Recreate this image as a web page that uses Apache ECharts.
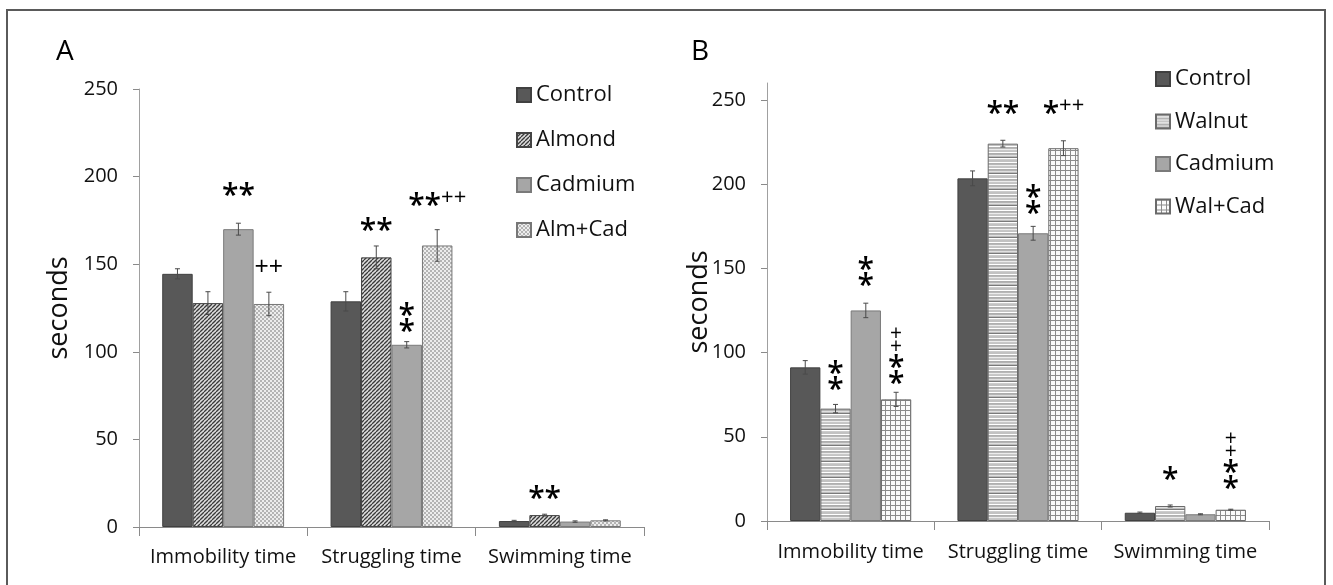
<!DOCTYPE html>
<html>
<head>
<meta charset="utf-8">
<script src="https://cdn.jsdelivr.net/npm/echarts@6/dist/echarts.min.js"></script>
<style>
html,body{margin:0;padding:0;background:#fff;}
#chart{width:1333px;height:585px;}
</style>
</head>
<body>
<div id="chart"></div>
<script>
// ---------------- data ----------------
const categories = ['Immobility time', 'Struggling time', 'Swimming time'];
const groupsA = ['Control', 'Almond', 'Cadmium', 'Alm+Cad'];
const groupsB = ['Control', 'Walnut', 'Cadmium', 'Wal+Cad'];
const yTicks = [0, 50, 100, 150, 200, 250];

// Panel A values (seconds)
const controlA = [144.5, 128.8, 3.4];
const almondA  = [127.8, 153.9, 6.8];
const cadmiumA = [170.0, 104.0, 3.1];
const almCadA  = [127.3, 160.7, 3.8];
// Panel A error bars
const controlAErr = [2.9, 5.5, 0.4];
const almondAErr  = [6.5, 6.5, 0.5];
const cadmiumAErr = [3.4, 1.8, 0.4];
const almCadAErr  = [6.7, 9.0, 0.3];

// Panel B values (seconds)
const controlB = [91.2, 203.4, 4.9];
const walnutB  = [66.7, 224.0, 8.9];
const cadmiumB = [125.0, 170.8, 4.0];
const walCadB  = [72.2, 221.3, 6.7];
// Panel B error bars
const controlBErr = [4.0, 4.4, 0.4];
const walnutBErr  = [2.5, 2.0, 0.6];
const cadmiumBErr = [4.3, 4.1, 0.3];
const walCadBErr  = [4.2, 4.4, 0.3];

// significance marks: [group, category, value where the mark sits, text]
const marksA = [
  ['Cadmium', 'Immobility time', 192.5, '**'],
  ['Alm+Cad', 'Immobility time', 148, '++'],
  ['Almond',  'Struggling time', 172.5, '**'],
  ['Alm+Cad', 'Struggling time', 187, '**++'],
  ['Cadmium', 'Struggling time', 119.5, '*\n*'],
  ['Almond',  'Swimming time', 19.6, '**']
];
const marksB = [
  ['Walnut',  'Immobility time', 86.2, '*\n*'],
  ['Cadmium', 'Immobility time', 148.4, '*\n*'],
  ['Wal+Cad', 'Immobility time', 97.5, '+\n+\n*\n*'],
  ['Walnut',  'Struggling time', 245.4, '**'],
  ['Wal+Cad', 'Struggling time', 245.3, '*++'],
  ['Cadmium', 'Struggling time', 190.9, '*\n*'],
  ['Walnut',  'Swimming time', 28.4, '*'],
  ['Wal+Cad', 'Swimming time', 35.2, '+\n+\n*\n*']
];

// ---------------- styles ----------------
const FONT = 'Open Sans';
const BAR_GAP = 0.276;

function pattern(w, h, draw) {
  const c = document.createElement('canvas');
  c.width = w; c.height = h;
  const ctx = c.getContext('2d');
  draw(ctx, w, h);
  return { image: c, repeat: 'repeat' };
}
const solidDark = '#585858';
const solidLight = '#a6a6a6';
const hatchDiag = pattern(4, 4, (ctx) => {
  ctx.fillStyle = '#dedede'; ctx.fillRect(0, 0, 4, 4);
  ctx.strokeStyle = '#3a3a3a'; ctx.lineWidth = 1.3;
  [0, 4, 8].forEach(c => { ctx.beginPath(); ctx.moveTo(c, 0); ctx.lineTo(c - 4, 4); ctx.stroke(); });
});
const checker = pattern(4, 4, (ctx) => {
  ctx.fillStyle = '#ededed'; ctx.fillRect(0, 0, 4, 4);
  ctx.fillStyle = '#b4b4b4'; ctx.fillRect(0, 0, 2, 2); ctx.fillRect(2, 2, 2, 2);
});
const hStripes = pattern(1, 16, (ctx) => {
  const rows = ['#c2c2c2','#c2c2c2','#ffffff','#b0b0b0','#b8b8b8','#ececec','#c8c8c8','#c4c4c4',
                '#ffffff','#adadad','#b5b5b5','#e0e0e0','#bdbdbd','#7a7a7a','#ffffff','#cccccc'];
  rows.forEach((col, i) => { ctx.fillStyle = col; ctx.fillRect(0, i, 1, 1); });
});
const grid = pattern(5, 5, (ctx) => {
  ctx.fillStyle = '#fbfbfb'; ctx.fillRect(0, 0, 5, 5);
  ctx.fillStyle = '#8c8c8c'; ctx.fillRect(0, 0, 5, 1); ctx.fillRect(0, 0, 1, 5);
});

const stylesA = {
  'Control': { color: solidDark, borderColor: '#404040' },
  'Almond':  { color: hatchDiag, borderColor: '#444444' },
  'Cadmium': { color: solidLight, borderColor: '#7a7a7a' },
  'Alm+Cad': { color: checker, borderColor: '#777777' }
};
const stylesB = {
  'Control': { color: solidDark, borderColor: '#404040' },
  'Walnut':  { color: hStripes, borderColor: '#6a6a6a' },
  'Cadmium': { color: solidLight, borderColor: '#7a7a7a' },
  'Wal+Cad': { color: grid, borderColor: '#6a6a6a' }
};

function richMark(text) {
  const lines = text.split('\n');
  return lines.map(line => {
    const hasStar = line.indexOf('*') >= 0, hasPlus = line.indexOf('+') >= 0;
    let plusStyle = 'p';                       // stacked plus
    if (lines.length === 1 && hasStar && hasPlus) plusStyle = 'q';   // "**++"
    else if (lines.length === 1 && !hasStar) plusStyle = 'r';        // standalone "++"
    return line.split('').map(ch => ch === '+' ? '{' + plusStyle + '|+}' : '{s|*}').join('');
  }).join('\n');
}

function barSeries(name, values, panel, marks) {
  const st = (panel === 0 ? stylesA : stylesB)[name];
  const mine = marks.filter(m => m[0] === name);
  const s = {
    type: 'bar', name: name, data: values,
    xAxisIndex: panel, yAxisIndex: panel,
    barGap: '0%', barCategoryGap: (BAR_GAP * 100) + '%',
    itemStyle: { color: st.color, borderColor: st.borderColor, borderWidth: 1 },
    emphasis: { disabled: true },
    animation: false
  };
  if (mine.length) {
    s.markPoint = {
      symbol: 'circle', symbolSize: 1,
      itemStyle: { color: 'rgba(0,0,0,0)' },
      animation: false,
      label: {
        show: true, position: 'inside', color: '#000',
        formatter: p => richMark(p.name),
        rich: {
          s: { fontFamily: FONT, fontSize: 30, fontWeight: 600, lineHeight: 16, color: '#000', padding: [14, 0, 0, 0] },
          p: { fontFamily: FONT, fontSize: 21, lineHeight: 12.5, color: '#000' },
          q: { fontFamily: FONT, fontSize: 22, lineHeight: 16, color: '#000', padding: [0, 0, 4, 0] },
          r: { fontFamily: FONT, fontSize: 25, lineHeight: 16, color: '#000' }
        }
      },
      data: mine.map(m => ({ name: m[3], coord: [m[1], m[2]] }))
    };
  }
  return s;
}

function errSeries(panel, valueLists, errLists) {
  const data = [];
  valueLists.forEach((vals, k) => {
    vals.forEach((v, c) => data.push([c, k, v, errLists[k][c]]));
  });
  return {
    type: 'custom', xAxisIndex: panel, yAxisIndex: panel, z: 5,
    silent: true, animation: false,
    encode: { x: 0, y: 2 },
    data: data,
    renderItem: function (params, api) {
      const c = api.value(0), k = api.value(1), v = api.value(2), e = api.value(3);
      const band = api.size([1, 0])[0];
      const bw = band * (1 - BAR_GAP) / 4;
      const cx = api.coord([c, v])[0] + (k - 1.5) * bw;
      const yTop = api.coord([c, v + e])[1];
      const yBot = api.coord([c, v - e])[1];
      const cap = 2.5;
      const style = { stroke: '#4a4a4a', lineWidth: 1 };
      return {
        type: 'group',
        children: [
          { type: 'line', shape: { x1: cx, y1: yTop, x2: cx, y2: yBot }, style: style },
          { type: 'line', shape: { x1: cx - cap, y1: yTop, x2: cx + cap, y2: yTop }, style: style },
          { type: 'line', shape: { x1: cx - cap, y1: yBot, x2: cx + cap, y2: yBot }, style: style }
        ]
      };
    }
  };
}

function xAxis(gridIndex, margin) {
  return {
    type: 'category', gridIndex: gridIndex, data: categories,
    axisLine: { lineStyle: { color: '#8a8a8a', width: 1 } },
    axisTick: { show: true, length: 9, lineStyle: { color: '#8a8a8a' } },
    axisLabel: { fontFamily: FONT, fontSize: 20, color: '#111', margin: margin, interval: 0 },
    splitLine: { show: false }
  };
}
function yAxis(gridIndex, max, nameGap) {
  return {
    type: 'value', gridIndex: gridIndex, min: 0, max: max, interval: 50,
    name: 'seconds', nameLocation: 'middle', nameGap: nameGap, nameRotate: 90,
    nameMoveOverlap: false,
    nameTextStyle: { fontFamily: FONT, fontSize: 27, color: '#111' },
    axisLine: { show: true, lineStyle: { color: '#a0a0a0', width: 1 } },
    axisTick: { show: true, length: 6, lineStyle: { color: '#8a8a8a' }, customValues: yTicks },
    axisLabel: { fontFamily: FONT, fontSize: 20, color: '#111', margin: 21, customValues: yTicks },
    splitLine: { show: false }
  };
}

const chart = echarts.init(document.getElementById('chart'), null, { renderer: 'canvas' });
const option = {
  backgroundColor: '#ffffff',
  animation: false,
  title: [
    { text: 'A', left: 51, top: 33, textStyle: { fontFamily: FONT, fontSize: 28, fontWeight: 'normal', color: '#000' } },
    { text: 'B', left: 686, top: 33, textStyle: { fontFamily: FONT, fontSize: 28, fontWeight: 'normal', color: '#000' } }
  ],
  graphic: [
    { type: 'rect', silent: true, shape: { x: 7, y: 10, width: 1318, height: 620 },
      style: { fill: 'none', stroke: '#5a5a5a', lineWidth: 2 } }
  ],
  legend: [
    { data: groupsA, orient: 'vertical', left: 511, top: 79, icon: 'rect',
      itemWidth: 14, itemHeight: 14, itemGap: 23,
      textStyle: { fontFamily: FONT, fontSize: 22, color: '#111' },
      selectedMode: false },
    { data: groupsB, orient: 'vertical', left: 1150, top: 63, icon: 'rect',
      itemWidth: 14, itemHeight: 14, itemGap: 20.5,
      textStyle: { fontFamily: FONT, fontSize: 22, color: '#111' },
      selectedMode: false }
  ],
  grid: [
    { left: 139, right: 689, top: 89, bottom: 58 },
    { left: 767, right: 64, top: 83, bottom: 64 }
  ],
  xAxis: [xAxis(0, 20), xAxis(1, 21)],
  yAxis: [yAxis(0, 250, 66), yAxis(1, 260, 54)],
  series: [
    barSeries('Control', controlA, 0, marksA),
    barSeries('Almond', almondA, 0, marksA),
    barSeries('Cadmium', cadmiumA, 0, marksA),
    barSeries('Alm+Cad', almCadA, 0, marksA),
    errSeries(0, [controlA, almondA, cadmiumA, almCadA], [controlAErr, almondAErr, cadmiumAErr, almCadAErr]),
    barSeries('Control', controlB, 1, marksB),
    barSeries('Walnut', walnutB, 1, marksB),
    barSeries('Cadmium', cadmiumB, 1, marksB),
    barSeries('Wal+Cad', walCadB, 1, marksB),
    errSeries(1, [controlB, walnutB, cadmiumB, walCadB], [controlBErr, walnutBErr, cadmiumBErr, walCadBErr])
  ]
};
chart.setOption(option);
</script>
</body>
</html>
